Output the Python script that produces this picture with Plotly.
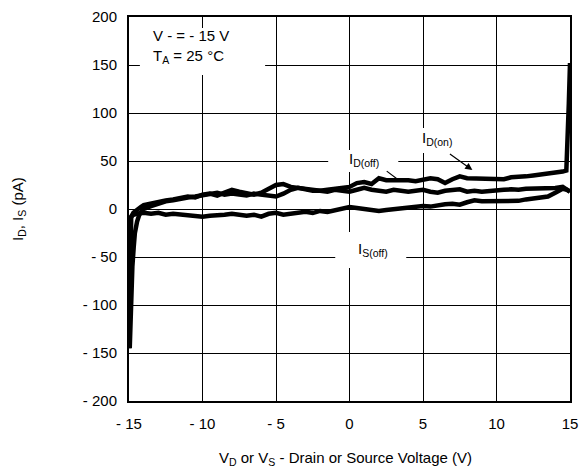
import plotly.graph_objects as go

# ---- data ----
vd_on = [-15, -14.97, -14.93, -14.9, -14.85, -14.7, -14.5, -14.2, -14, -13.5, -13, -12.5, -12, -11.5, -11, -10.5,
         -10, -9.5, -9, -8.5, -8, -7.5, -7, -6.5, -6, -5.5, -5, -4.5, -4, -3.5, -3, -2.5, -2, -1.5, -1, -0.5,
         0, 0.5, 1, 1.5, 2, 2.5, 3, 3.5, 4, 4.5, 5, 5.5, 6, 6.5, 7, 7.5, 8, 8.5, 9, 9.5, 10, 10.5, 11, 11.5,
         12, 12.5, 13, 13.5, 14, 14.5, 14.75, 14.85, 14.92, 15]
id_on = [-145, -100, -40, -15, -8, -4, -1, 2, 4, 6, 8, 9, 10, 12, 13, 12,
         15, 16, 14, 17, 20, 18, 17, 15, 17, 21, 25, 26, 23, 22, 21, 20, 19, 20, 21, 22,
         23, 27, 28, 26, 32, 30, 30, 31, 30, 29, 30, 32, 31, 27, 31, 34, 32, 32, 31, 32, 32, 31, 33, 33,
         34, 35, 36, 36, 37.5, 39, 40, 70, 110, 152]

vd_off = [-14.95, -14.9, -14.85, -14.77, -14.68, -14.6, -14.45, -14.3, -14.1, -14, -13.5, -13, -12.5, -12, -11.5,
          -11, -10.5, -10, -9.5, -9, -8.5, -8, -7.5, -7, -6.5, -6, -5.5, -5, -4.5, -4, -3.5, -3, -2.5, -2,
          -1.5, -1, -0.5, 0, 0.5, 1, 1.5, 2, 2.5, 3, 3.5, 4, 4.5, 5, 5.5, 6, 6.5, 7, 7.5, 8, 8.5, 9, 9.5,
          10, 10.5, 11, 11.5, 12, 12.5, 13, 13.5, 14, 14.5, 14.8, 15]
id_off = [-145, -105, -80, -60, -40, -25, -13, -6, -2, 0, 3, 6, 8, 9, 11,
          12, 13, 14, 15, 17, 15, 16, 15, 14, 16, 15, 14, 13, 16, 20, 22, 20, 19, 19,
          18, 20, 19, 18, 20, 22, 20, 19, 18, 20, 19, 18, 19, 20, 18, 17, 19, 20, 20.5, 18, 19, 18, 19,
          19, 20, 20.5, 20, 21, 21, 22, 22, 22, 23, 20, 18]

vs_off = [-15, -14.9, -14.7, -14.5, -14, -13.5, -13, -12.5, -12, -11.5, -11, -10.5, -10, -9.5, -9, -8.5, -8,
          -7.5, -7, -6.5, -6, -5.5, -5, -4.5, -4, -3.5, -3, -2.5, -2, -1.5, -1, -0.5, 0, 0.5, 1, 1.5, 2,
          2.5, 3, 3.5, 4, 4.5, 5, 5.5, 6, 6.5, 7, 7.5, 8, 8.5, 9, 9.5, 10, 10.5, 11, 11.5, 12, 12.5, 13,
          13.5, 14, 14.5, 14.8, 15]
is_off = [-14, -9, -6, -5, -4, -5, -4, -6, -5, -6, -7, -8, -8, -7, -7, -6, -5,
          -6, -7, -6, -8, -5, -4, -6, -5, -4, -3, -4, -2, -3, -1, 0, 2, 1, 0, -1, -2,
          -1, 0, 1, 1, 2, 3, 2.5, 4, 5, 5.5, 4.5, 7, 9, 8, 8, 8.5, 9, 9, 8.5, 10, 11, 12,
          13, 17, 21, 20, 18]

x_ticks = [-15, -10, -5, 0, 5, 10, 15]
x_ticktext = ["- 15", "- 10", "- 5", "0", "5", "10", "15"]
y_ticks = [-200, -150, -100, -50, 0, 50, 100, 150, 200]
y_ticktext = ["- 200", "- 150", "- 100", "- 50", "0", "50", "100", "150", "200"]

FONT = "Liberation Sans, Arial, Helvetica, sans-serif"
line = dict(color="black", width=4.5)

fig = go.Figure()
for xs, ys in [(vs_off, is_off), (vd_off, id_off), (vd_on, id_on)]:
    fig.add_trace(go.Scatter(x=xs, y=ys, mode="lines", line=line, showlegend=False, hoverinfo="skip"))

# white boxes that interrupt the grid behind the labels
boxes = [(-14.26, -5.74, 139.6, 188.5), (4.13, 7.54, 58.3, 84.4),
         (-1.45, 3.32, 38.5, 61.5), (-0.97, 3.86, -61.5, -24)]
for x0, x1, y0, y1 in boxes:
    fig.add_shape(type="rect", x0=x0, x1=x1, y0=y0, y1=y1, xref="x", yref="y",
                  fillcolor="white", line=dict(width=0), layer="between")

anns = [
    dict(x=-13.5, y=169, text="V - = - 15 V<br>T<sub>A</sub> = 25 °C", xanchor="left", align="left"),
    dict(x=5.93, y=73, text="I<sub>D(on)</sub>", xanchor="center"),
    dict(x=1.0, y=52, text="I<sub>D(off)</sub>", xanchor="center"),
    dict(x=1.6, y=-42, text="I<sub>S(off)</sub>", xanchor="center"),
]
for a in anns:
    fig.add_annotation(xref="x", yref="y", showarrow=False, yanchor="middle",
                       font=dict(family=FONT, size=15, color="black"), **a)

# arrows
fig.add_annotation(x=8.36, y=40.6, ax=6.73, ay=58.3, xref="x", yref="y", axref="x", ayref="y",
                   text="", showarrow=True, arrowhead=2, arrowsize=1.2, arrowwidth=1.2, arrowcolor="black")
fig.add_annotation(x=3.45, y=29, ax=2.43, ay=40.6, xref="x", yref="y", axref="x", ayref="y",
                   text="", showarrow=True, arrowhead=0, arrowwidth=1.2, arrowcolor="black")

# axis titles
fig.add_annotation(xref="paper", yref="paper", x=(18 - 129) / 441, y=0.5, showarrow=False,
                   xanchor="center", yanchor="middle",
                   text="I<sub>D</sub>, I<sub>S</sub> (pA)", textangle=-90,
                   font=dict(family=FONT, size=15, color="black"))
fig.add_annotation(xref="paper", yref="paper", x=0.49, y=(401 - 458) / 384, showarrow=False,
                   xanchor="center", yanchor="middle",
                   text="V<sub>D</sub> or V<sub>S</sub> - Drain or Source Voltage (V)",
                   font=dict(family=FONT, size=15, color="black"))

axis_common = dict(showline=True, linecolor="black", linewidth=2, mirror=True,
                   showgrid=True, gridcolor="black", gridwidth=1, zeroline=False,
                   ticks="", tickfont=dict(family=FONT, size=15, color="black"))

fig.update_xaxes(range=[-15, 15], tickvals=x_ticks, ticktext=x_ticktext, ticklabelstandoff=8, **axis_common)
fig.update_yaxes(range=[-200, 200], tickvals=y_ticks, ticktext=y_ticktext, ticklabelstandoff=7, **axis_common)

fig.update_layout(width=579, height=468, margin=dict(l=129, r=9, t=17, b=67, autoexpand=False),
                  plot_bgcolor="white", paper_bgcolor="white", hovermode=False,
                  font=dict(family=FONT, size=15, color="black"))

# remove the default 8px page margin so the figure fills the window exactly
fig.write_html("out.html", config={"displayModeBar": False, "staticPlot": True},
               post_script="document.body.style.margin='0';document.body.style.overflow='hidden';")
